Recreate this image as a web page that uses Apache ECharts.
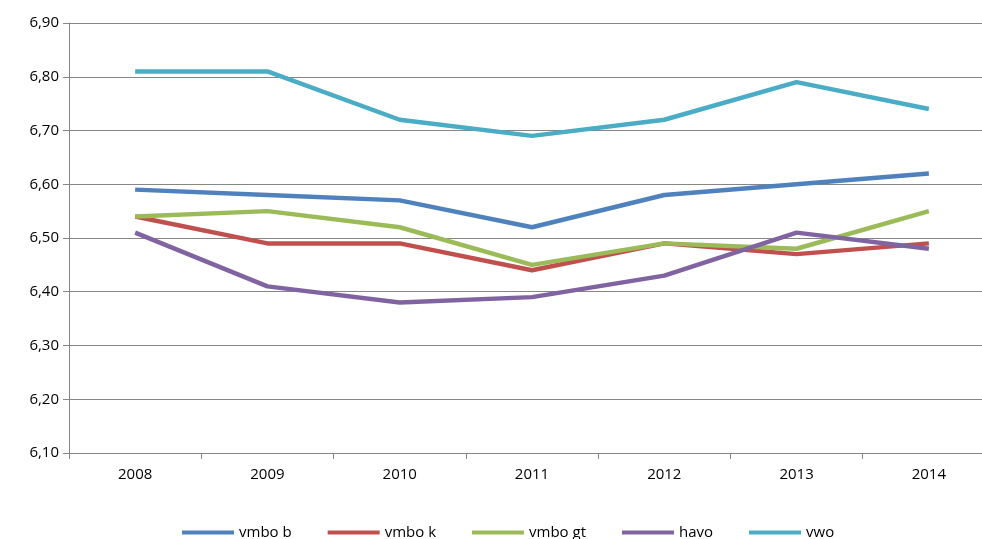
<!DOCTYPE html>
<html><head><meta charset="utf-8">
<script src="https://cdn.jsdelivr.net/npm/echarts@6/dist/echarts.min.js"></script>
<style>html,body{margin:0;padding:0;background:#fff}#c{width:982px;height:539px}</style>
</head><body><div id="c"></div>
<script>
let years = ['2008','2009','2010','2011','2012','2013','2014'];
let names = ['vmbo b','vmbo k','vmbo gt','havo','vwo'];
let colors = ['#4F81BD','#C0504D','#9BBB59','#8064A2','#4BACC6'];
let vmboB = [6.59,6.58,6.57,6.52,6.58,6.60,6.62];
let vmboK = [6.54,6.49,6.49,6.44,6.49,6.47,6.49];
let vmboGt = [6.54,6.55,6.52,6.45,6.49,6.48,6.55];
let havo = [6.51,6.41,6.38,6.39,6.43,6.51,6.48];
let vwo = [6.81,6.81,6.72,6.69,6.72,6.79,6.74];
let values = [vmboB, vmboK, vmboGt, havo, vwo];

let chart = echarts.init(document.getElementById('c'));
let txt = {color:'#000', fontSize:15, fontFamily:'Open Sans, sans-serif'};
chart.setOption({
    animation: false,
    color: colors,
    grid: {left: 69, width: 926, top: 23, height: 430, outerBoundsMode: 'none'},
    legend: {
        bottom: -6, left: 177, itemWidth: 52, itemHeight: 4, itemGap: 36,
        icon: 'rect', textStyle: txt, data: names
    },
    xAxis: {
        type: 'category', data: years, boundaryGap: true,
        axisLine: {lineStyle: {color: '#868686'}},
        axisTick: {show: true, length: 6, lineStyle: {color: '#868686'}},
        axisLabel: Object.assign({margin: 14}, txt)
    },
    yAxis: {
        type: 'value', min: 6.1, max: 6.9, interval: 0.1,
        axisLine: {show: true, lineStyle: {color: '#868686'}},
        axisTick: {show: true, length: 6, inside: false, lineStyle: {color: '#868686'}},
        splitLine: {lineStyle: {color: '#868686'}},
        axisLabel: Object.assign({margin: 10, formatter: v => v.toFixed(2).replace('.', ',')}, txt)
    },
    series: names.map((n, i) => ({
        name: n, type: 'line', data: values[i], symbol: 'none',
        lineStyle: {width: 4.5, color: colors[i]}
    }))
});
</script></body></html>
